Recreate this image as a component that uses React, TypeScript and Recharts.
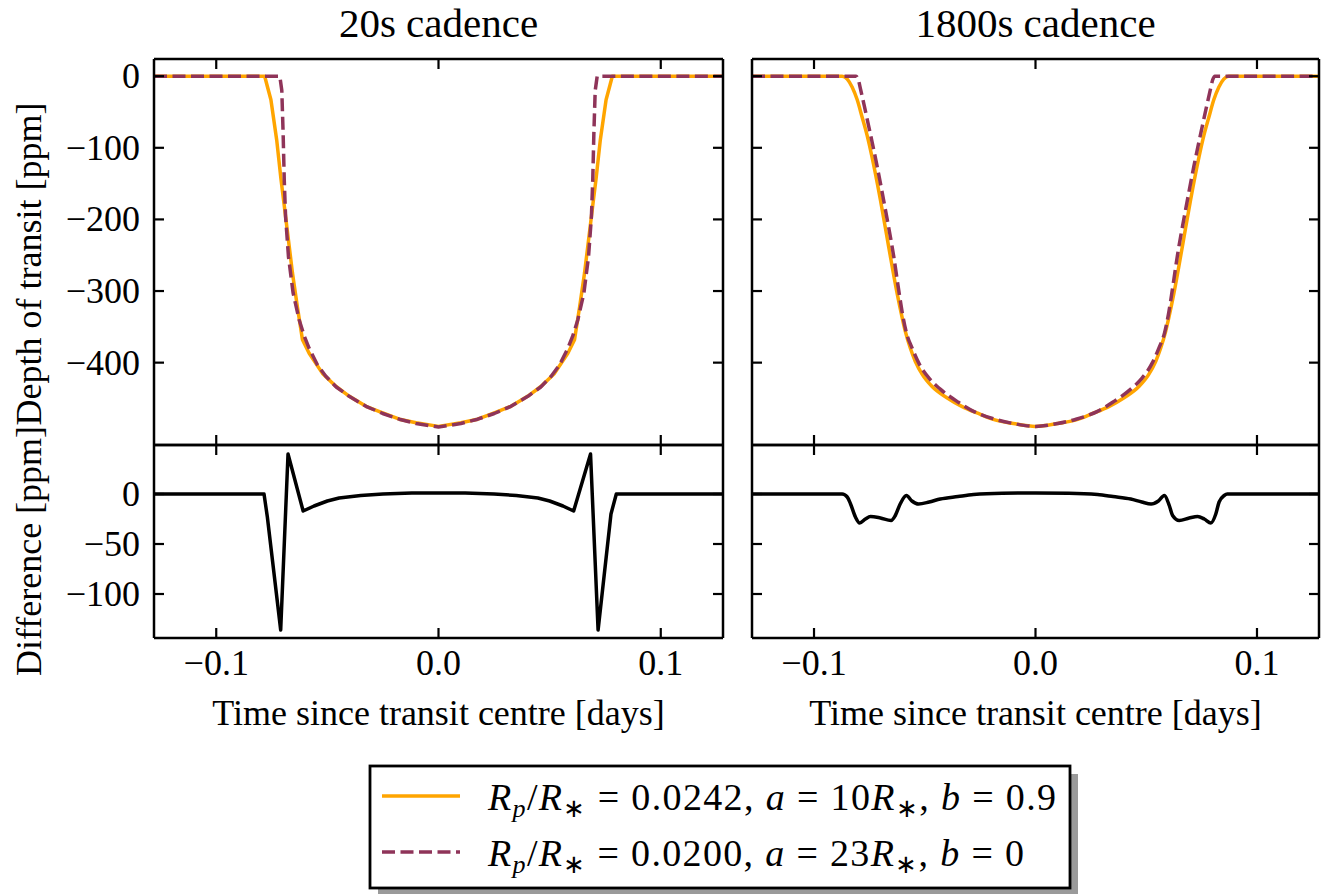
import React from 'react';
import { LineChart, Line, XAxis, YAxis } from 'recharts';

const FONT = '"Liberation Serif", "Times New Roman", serif';
const ORANGE = '#FFA500';
const PURPLE = '#8F3459';
const BLACK = '#000000';

// axes
const xTicks = [-0.1, 0, 0.1];
const xDomain = [-0.128, 0.128];
const depthTicks = [-400, -300, -200, -100, 0];
const depthDomain = [-515, 24];
const diffTicks = [-100, -50, 0];
const diffDomain = [-144, 49];

const panelTitles = ['20s cadence', '1800s cadence'];
const xLabel = 'Time since transit centre [days]';
const depthLabel = 'Depth of transit [ppm]';
const diffLabel = 'Difference [ppm]';

type Pt = { t: number; v: number };

// 20s cadence, Rp/R* = 0.0242, a = 10R*, b = 0.9
const orange20: Pt[] = [
  { t: -0.128, v: 0 }, { t: -0.0782, v: 0 }, { t: -0.0772, v: -12 }, { t: -0.0754, v: -33 },
  { t: -0.0728, v: -89 }, { t: -0.0709, v: -143 }, { t: -0.0695, v: -178 }, { t: -0.0657, v: -275 },
  { t: -0.0635, v: -322 }, { t: -0.0612, v: -368 }, { t: -0.0582, v: -387 }, { t: -0.0522, v: -415 },
  { t: -0.0462, v: -433 }, { t: -0.0401, v: -447 }, { t: -0.0326, v: -461 }, { t: -0.0251, v: -470 },
  { t: -0.0176, v: -479 }, { t: -0.0101, v: -484 }, { t: 0, v: -489 },
  { t: 0.0101, v: -484 }, { t: 0.0176, v: -479 }, { t: 0.0251, v: -470 }, { t: 0.0326, v: -461 },
  { t: 0.0401, v: -447 }, { t: 0.0462, v: -433 }, { t: 0.0522, v: -415 }, { t: 0.0582, v: -387 },
  { t: 0.0612, v: -368 }, { t: 0.0635, v: -322 }, { t: 0.0657, v: -275 }, { t: 0.0695, v: -178 },
  { t: 0.0709, v: -143 }, { t: 0.0728, v: -89 }, { t: 0.0754, v: -33 }, { t: 0.0772, v: -12 },
  { t: 0.0782, v: 0 }, { t: 0.128, v: 0 },
];

// 20s cadence, Rp/R* = 0.0200, a = 23R*, b = 0
const purple20: Pt[] = [
  { t: -0.128, v: 0 }, { t: -0.0714, v: 0 }, { t: -0.0705, v: -20 }, { t: -0.0699, v: -80 },
  { t: -0.0694, v: -145 }, { t: -0.0688, v: -196 }, { t: -0.0675, v: -252 }, { t: -0.0654, v: -303 },
  { t: -0.0627, v: -340 }, { t: -0.0605, v: -362 }, { t: -0.0582, v: -380 }, { t: -0.0545, v: -403 },
  { t: -0.0507, v: -419 }, { t: -0.046, v: -434 }, { t: -0.0402, v: -447 }, { t: -0.0326, v: -461 },
  { t: -0.0251, v: -471 }, { t: -0.0176, v: -479 }, { t: -0.0101, v: -485 }, { t: 0, v: -490 },
  { t: 0.0101, v: -485 }, { t: 0.0176, v: -479 }, { t: 0.0251, v: -471 }, { t: 0.0326, v: -461 },
  { t: 0.0402, v: -447 }, { t: 0.046, v: -434 }, { t: 0.0507, v: -419 }, { t: 0.0545, v: -403 },
  { t: 0.0582, v: -380 }, { t: 0.0605, v: -362 }, { t: 0.0627, v: -340 }, { t: 0.0654, v: -303 },
  { t: 0.0675, v: -252 }, { t: 0.0688, v: -196 }, { t: 0.0694, v: -145 }, { t: 0.0699, v: -80 },
  { t: 0.0705, v: -20 }, { t: 0.0714, v: 0 }, { t: 0.128, v: 0 },
];

const diff20: Pt[] = [
  { t: -0.128, v: 0 }, { t: -0.0785, v: 0 }, { t: -0.077, v: -23 }, { t: -0.071, v: -136 },
  { t: -0.0677, v: 40 }, { t: -0.0609, v: -17 }, { t: -0.056, v: -12 }, { t: -0.05, v: -7 },
  { t: -0.0447, v: -4 }, { t: -0.035, v: -1.5 }, { t: -0.025, v: 0 }, { t: -0.012, v: 1 },
  { t: 0, v: 1 }, { t: 0.012, v: 1 }, { t: 0.025, v: 0 }, { t: 0.035, v: -1.5 },
  { t: 0.0447, v: -4 }, { t: 0.05, v: -7 }, { t: 0.056, v: -12 }, { t: 0.0608, v: -17 },
  { t: 0.0684, v: 40 }, { t: 0.0718, v: -136 }, { t: 0.0776, v: -20 }, { t: 0.08, v: 0 },
  { t: 0.128, v: 0 },
];

// 1800s cadence
const orange1800: Pt[] = [
  { t: -0.128, v: 0 }, { t: -0.0873, v: 0 }, { t: -0.085, v: -4 }, { t: -0.0828, v: -15 },
  { t: -0.0805, v: -33 }, { t: -0.0783, v: -57 }, { t: -0.076, v: -83 }, { t: -0.0738, v: -113 },
  { t: -0.07, v: -173 }, { t: -0.0663, v: -238 }, { t: -0.0625, v: -303 }, { t: -0.06, v: -340 },
  { t: -0.0588, v: -356 }, { t: -0.0565, v: -380 }, { t: -0.0543, v: -398 }, { t: -0.051, v: -417 },
  { t: -0.0468, v: -433 }, { t: -0.04, v: -449 }, { t: -0.0333, v: -461 }, { t: -0.0258, v: -471 },
  { t: -0.0183, v: -480 }, { t: -0.01, v: -485 }, { t: 0, v: -489 },
  { t: 0.01, v: -485 }, { t: 0.0183, v: -480 }, { t: 0.0258, v: -471 }, { t: 0.0333, v: -461 },
  { t: 0.04, v: -449 }, { t: 0.0468, v: -433 }, { t: 0.051, v: -417 }, { t: 0.0543, v: -398 },
  { t: 0.0565, v: -380 }, { t: 0.0588, v: -356 }, { t: 0.06, v: -340 }, { t: 0.0625, v: -303 },
  { t: 0.0663, v: -238 }, { t: 0.07, v: -173 }, { t: 0.0738, v: -113 }, { t: 0.076, v: -83 },
  { t: 0.0783, v: -57 }, { t: 0.0805, v: -33 }, { t: 0.0828, v: -15 }, { t: 0.085, v: -4 },
  { t: 0.0873, v: 0 }, { t: 0.128, v: 0 },
];

const purple1800: Pt[] = [
  { t: -0.128, v: 0 }, { t: -0.081, v: 0 }, { t: -0.08, v: -5 }, { t: -0.079, v: -18 },
  { t: -0.0772, v: -43 }, { t: -0.0753, v: -70 }, { t: -0.0715, v: -126 }, { t: -0.0678, v: -186 },
  { t: -0.064, v: -252 }, { t: -0.0618, v: -298 }, { t: -0.06, v: -333 }, { t: -0.0583, v: -358 },
  { t: -0.0558, v: -379 }, { t: -0.0528, v: -400 }, { t: -0.048, v: -422 }, { t: -0.043, v: -437 },
  { t: -0.035, v: -455 }, { t: -0.028, v: -468 }, { t: -0.0183, v: -479 }, { t: -0.01, v: -485 },
  { t: 0, v: -489 },
  { t: 0.01, v: -485 }, { t: 0.0183, v: -479 }, { t: 0.028, v: -468 }, { t: 0.035, v: -455 },
  { t: 0.043, v: -437 }, { t: 0.048, v: -422 }, { t: 0.0528, v: -400 }, { t: 0.0558, v: -379 },
  { t: 0.0583, v: -358 }, { t: 0.06, v: -333 }, { t: 0.0618, v: -298 }, { t: 0.064, v: -252 },
  { t: 0.0678, v: -186 }, { t: 0.0715, v: -126 }, { t: 0.0753, v: -70 }, { t: 0.0772, v: -43 },
  { t: 0.079, v: -18 }, { t: 0.08, v: -5 }, { t: 0.081, v: 0 }, { t: 0.128, v: 0 },
];

const diff1800: Pt[] = [
  { t: -0.128, v: 0 }, { t: -0.0873, v: 0 }, { t: -0.085, v: -3 }, { t: -0.0835, v: -10 },
  { t: -0.0813, v: -23 }, { t: -0.0794, v: -29 }, { t: -0.0768, v: -25 }, { t: -0.0745, v: -22.5 },
  { t: -0.07, v: -24 }, { t: -0.0652, v: -26.5 }, { t: -0.0633, v: -21.5 }, { t: -0.0611, v: -10 },
  { t: -0.0583, v: -1.5 }, { t: -0.0558, v: -7 }, { t: -0.0528, v: -10 }, { t: -0.048, v: -8 },
  { t: -0.043, v: -5 }, { t: -0.035, v: -2.5 }, { t: -0.028, v: -0.5 }, { t: -0.015, v: 0.8 },
  { t: 0, v: 1 },
  { t: 0.015, v: 0.8 }, { t: 0.028, v: -0.5 }, { t: 0.035, v: -2.5 }, { t: 0.043, v: -5 },
  { t: 0.048, v: -8 }, { t: 0.0522, v: -10 }, { t: 0.0555, v: -7 }, { t: 0.0582, v: -1.5 },
  { t: 0.0604, v: -11.5 }, { t: 0.0619, v: -21.5 }, { t: 0.0649, v: -26.5 }, { t: 0.0694, v: -24 },
  { t: 0.0732, v: -22.5 }, { t: 0.0762, v: -25 }, { t: 0.0792, v: -29 }, { t: 0.0814, v: -20 },
  { t: 0.0829, v: -8 }, { t: 0.0852, v: -1.5 }, { t: 0.0866, v: 0 }, { t: 0.128, v: 0 },
];

const fmtNum = (v: number, digits: number) => {
  const s = Math.abs(v).toFixed(digits);
  return v < 0 ? '\u2212' + s : s;
};

const TICK_LEN = 10;
const TICK_W = 2.2;
const LABEL_SIZE = 36;
const AX = 1; // axis band size (px)

const LeftTick = (props: any) => {
  const { x, y, payload, showLabel } = props;
  return (
    <g>
      <line x1={x} x2={x + TICK_LEN} y1={y} y2={y} stroke={BLACK} strokeWidth={TICK_W} />
      {showLabel ? (
        <text x={x - 14} y={y + 12} textAnchor="end" fontFamily={FONT} fontSize={LABEL_SIZE} fill={BLACK}>
          {fmtNum(payload.value, 0)}
        </text>
      ) : null}
    </g>
  );
};

const RightTick = (props: any) => {
  const { x, y } = props;
  return <line x1={x - TICK_LEN} x2={x} y1={y} y2={y} stroke={BLACK} strokeWidth={TICK_W} />;
};

const BottomTick = (props: any) => {
  const { x, y, payload, showLabel } = props;
  return (
    <g>
      <line x1={x} x2={x} y1={y - TICK_LEN} y2={y} stroke={BLACK} strokeWidth={TICK_W} />
      {showLabel ? (
        <text x={x} y={y + 37} textAnchor="middle" fontFamily={FONT} fontSize={LABEL_SIZE} fill={BLACK}>
          {fmtNum(payload.value, 1)}
        </text>
      ) : null}
    </g>
  );
};

const TopTick = (props: any) => {
  const { x, y } = props;
  return <line x1={x} x2={x} y1={y} y2={y + TICK_LEN} stroke={BLACK} strokeWidth={TICK_W} />;
};

type Series = { data: Pt[]; color: string; dash?: string; curve: 'linear' | 'monotone' };

type PanelProps = {
  left: number;
  top: number;
  width: number;
  height: number;
  margin: { top: number; right: number; bottom: number; left: number };
  yDomain: number[];
  yTicks: number[];
  yLabels: boolean;
  xLabels: boolean;
  series: Series[];
};

const axisLine = { stroke: BLACK, strokeWidth: 2.5 };

function Panel(p: PanelProps) {
  const m = {
    top: p.margin.top - AX,
    bottom: p.margin.bottom - AX,
    left: p.margin.left - AX,
    right: p.margin.right - AX,
  };
  return (
    <div style={{ position: 'absolute', left: p.left, top: p.top, width: p.width, height: p.height }}>
      <LineChart width={p.width} height={p.height} margin={m}>
        <XAxis
          xAxisId="b" dataKey="t" type="number" domain={xDomain} ticks={xTicks} allowDataOverflow
          interval={0} height={AX} tickSize={0} tickMargin={0} axisLine={axisLine} tickLine={false}
          tick={(tp: any) => <BottomTick {...tp} showLabel={p.xLabels} />}
        />
        <XAxis
          xAxisId="t" orientation="top" dataKey="t" type="number" domain={xDomain} ticks={xTicks}
          allowDataOverflow interval={0} height={AX} tickSize={0} tickMargin={0} axisLine={axisLine}
          tickLine={false} tick={(tp: any) => <TopTick {...tp} />}
        />
        <YAxis
          yAxisId="l" type="number" domain={p.yDomain} ticks={p.yTicks} allowDataOverflow interval={0}
          width={AX} tickSize={0} tickMargin={0} axisLine={axisLine} tickLine={false}
          tick={(tp: any) => <LeftTick {...tp} showLabel={p.yLabels} />}
        />
        <YAxis
          yAxisId="r" orientation="right" type="number" domain={p.yDomain} ticks={p.yTicks}
          allowDataOverflow interval={0} width={AX} tickSize={0} tickMargin={0} axisLine={axisLine}
          tickLine={false} tick={(tp: any) => <RightTick {...tp} />}
        />
        {p.series.map((s, i) => (
          <Line
            key={i} xAxisId="b" yAxisId="l" data={s.data} dataKey="v" type={s.curve}
            stroke={s.color} strokeWidth={3.5} strokeDasharray={s.dash} dot={false}
            activeDot={false} isAnimationActive={false} strokeLinejoin="round"
          />
        ))}
      </LineChart>
    </div>
  );
}

const topMarginL = { top: 59, right: 17, bottom: 15, left: 154 };
const botMarginL = { top: 15, right: 17, bottom: 72, left: 154 };
const topMarginR = { top: 59, right: 7, bottom: 15, left: 12 };
const botMarginR = { top: 15, right: 7, bottom: 72, left: 12 };

const DASH = '13 5.5';
const LEG = 38;
const SUB = 26;

export default function App() {
  return (
    <div style={{ position: 'absolute', left: 0, top: 0, width: 1326, height: 894, background: '#fff', overflow: 'hidden' }}>
      <svg width={1326} height={894} style={{ position: 'absolute', left: 0, top: 0 }}>
        <g fontFamily={FONT} fill={BLACK}>
          <text x={438.5} y={37} fontSize={41} textAnchor="middle">{panelTitles[0]}</text>
          <text x={1035.5} y={37} fontSize={41} textAnchor="middle">{panelTitles[1]}</text>
          <text x={438.5} y={725} fontSize={LABEL_SIZE} textAnchor="middle">{xLabel}</text>
          <text x={1035.5} y={725} fontSize={LABEL_SIZE} textAnchor="middle">{xLabel}</text>
          <text x={0} y={0} fontSize={LABEL_SIZE} textAnchor="middle" transform="translate(41,264) rotate(-90)">{depthLabel}</text>
          <text x={0} y={0} fontSize={LABEL_SIZE} textAnchor="middle" transform="translate(41,551) rotate(-90)">{diffLabel}</text>
        </g>
        {/* legend */}
        <rect x={378} y={774} width={700} height={122} fill="#9a9a9a" />
        <rect x={370} y={766} width={700} height={122} fill="#fff" stroke={BLACK} strokeWidth={2.8} />
        <line x1={382} x2={460} y1={796} y2={796} stroke={ORANGE} strokeWidth={3.5} />
        <line x1={382} x2={460} y1={852} y2={852} stroke={PURPLE} strokeWidth={3.5} strokeDasharray={DASH} />
        <text x={488} y={810} fontFamily={FONT} fontSize={LEG} fill={BLACK} style={{ whiteSpace: 'pre' }}
          textLength={568} lengthAdjust="spacing">
          <tspan fontStyle="italic">R</tspan>
          <tspan fontStyle="italic" fontSize={SUB} dy={7}>p</tspan>
          <tspan dy={-7}>/</tspan>
          <tspan fontStyle="italic">R</tspan>
          <tspan fontSize={SUB} dy={7}>∗</tspan>
          <tspan dy={-7}>{' = 0.0242, '}</tspan>
          <tspan fontStyle="italic">a</tspan>
          <tspan>{' = 10'}</tspan>
          <tspan fontStyle="italic">R</tspan>
          <tspan fontSize={SUB} dy={7}>∗</tspan>
          <tspan dy={-7}>{', '}</tspan>
          <tspan fontStyle="italic">b</tspan>
          <tspan>{' = 0.9'}</tspan>
        </text>
        <text x={488} y={866} fontFamily={FONT} fontSize={LEG} fill={BLACK} style={{ whiteSpace: 'pre' }}
          textLength={536} lengthAdjust="spacing">
          <tspan fontStyle="italic">R</tspan>
          <tspan fontStyle="italic" fontSize={SUB} dy={7}>p</tspan>
          <tspan dy={-7}>/</tspan>
          <tspan fontStyle="italic">R</tspan>
          <tspan fontSize={SUB} dy={7}>∗</tspan>
          <tspan dy={-7}>{' = 0.0200, '}</tspan>
          <tspan fontStyle="italic">a</tspan>
          <tspan>{' = 23'}</tspan>
          <tspan fontStyle="italic">R</tspan>
          <tspan fontSize={SUB} dy={7}>∗</tspan>
          <tspan dy={-7}>{', '}</tspan>
          <tspan fontStyle="italic">b</tspan>
          <tspan>{' = 0'}</tspan>
        </text>
      </svg>
      <Panel left={0} top={0} width={740} height={460} margin={topMarginL} yDomain={depthDomain} yTicks={depthTicks}
        yLabels xLabels={false}
        series={[{ data: orange20, color: ORANGE, curve: 'linear' }, { data: purple20, color: PURPLE, dash: DASH, curve: 'linear' }]} />
      <Panel left={0} top={430} width={740} height={280} margin={botMarginL} yDomain={diffDomain} yTicks={diffTicks}
        yLabels xLabels series={[{ data: diff20, color: BLACK, curve: 'linear' }]} />
      <Panel left={740} top={0} width={586} height={460} margin={topMarginR} yDomain={depthDomain} yTicks={depthTicks}
        yLabels={false} xLabels={false}
        series={[{ data: orange1800, color: ORANGE, curve: 'monotone' }, { data: purple1800, color: PURPLE, dash: DASH, curve: 'monotone' }]} />
      <Panel left={740} top={430} width={586} height={280} margin={botMarginR} yDomain={diffDomain} yTicks={diffTicks}
        yLabels={false} xLabels series={[{ data: diff1800, color: BLACK, curve: 'monotone' }]} />
    </div>
  );
}
